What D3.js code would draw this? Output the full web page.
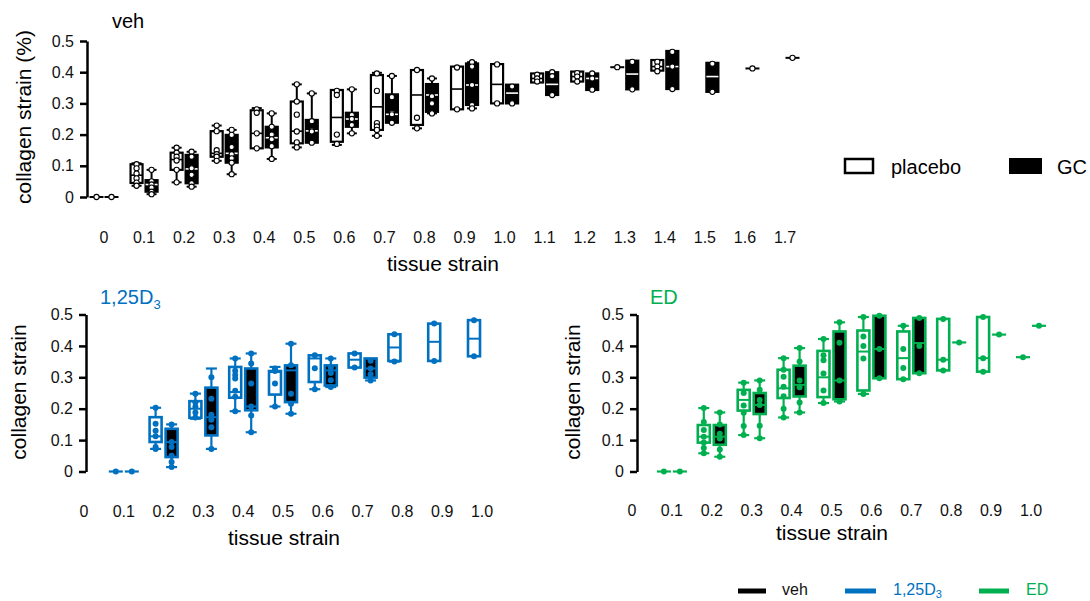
<!DOCTYPE html>
<html><head><meta charset="utf-8">
<script src="https://cdn.jsdelivr.net/npm/d3@7"></script>
<style>
body{margin:0;background:#fff;}
svg text{font-family:Arial,"Liberation Sans",sans-serif;}
</style>
</head><body>
<svg id="chart" width="1090" height="601"></svg>
<script>
// ---------- categories & ticks ----------
const topCats = ["0","0.1","0.2","0.3","0.4","0.5","0.6","0.7","0.8","0.9","1.0","1.1","1.2","1.3","1.4","1.5","1.6","1.7"];
const botCats = ["0","0.1","0.2","0.3","0.4","0.5","0.6","0.7","0.8","0.9","1.0"];
const yTicks = [0, 0.1, 0.2, 0.3, 0.4, 0.5];
const yTickLabels = ["0", "0.1", "0.2", "0.3", "0.4", "0.5"];

// ---------- veh (top) : [min, q1, median, q3, max] ----------
const vehPlaceboStats = [
  [0,0,0,0,0],[0.036,0.045,0.07,0.105,0.108],[0.047,0.087,0.12,0.142,0.158],[0.116,0.129,0.14,0.211,0.229],
  [0.156,0.156,0.204,0.278,0.285],[0.159,0.172,0.211,0.306,0.361],[0.167,0.177,0.255,0.343,0.343],
  [0.196,0.215,0.289,0.391,0.398],[0.22,0.231,0.327,0.407,0.407],[0.281,0.281,0.346,0.418,0.418],
  [0.3,0.3,0.361,0.426,0.426],[0.367,0.367,0.38,0.396,0.396],[0.37,0.37,0.386,0.402,0.402],
  [0.416,0.416,0.416,0.416,0.416],[0.405,0.405,0.418,0.439,0.439],null,null,null];
const vehPlaceboPts = [
  [0],[0.105,0.092,0.075,0.06,0.046,0.036],[0.158,0.142,0.129,0.117,0.087,0.047],[0.229,0.211,0.15,0.137,0.129,0.116],
  [0.281,0.27,0.204,0.156],[0.361,0.306,0.264,0.21,0.175,0.159],[0.34,0.327,0.2,0.17],
  [0.396,0.34,0.237,0.226,0.215,0.196],[0.407,0.254,0.22],[0.415,0.281],
  [0.425,0.3],[0.392,0.38,0.37],[0.397,0.386,0.37],[0.416],[0.433,0.418,0.403],[],[],[]];
const vehGCStats = [
  [0,0,0,0,0],[0.009,0.017,0.04,0.054,0.087],[0.033,0.044,0.09,0.135,0.145],[0.073,0.11,0.14,0.199,0.215],
  [0.122,0.159,0.19,0.225,0.268],[0.174,0.174,0.212,0.247,0.332],[0.204,0.225,0.25,0.27,0.345],
  [0.238,0.238,0.265,0.329,0.388],[0.268,0.273,0.327,0.362,0.38],[0.284,0.295,0.359,0.428,0.432],
  [0.3,0.3,0.333,0.36,0.36],[0.327,0.327,0.361,0.4,0.4],[0.343,0.343,0.38,0.396,0.396],
  [0.345,0.345,0.394,0.437,0.437],[0.346,0.346,0.418,0.468,0.468],[0.337,0.337,0.386,0.43,0.43],
  [0.412,0.412,0.412,0.412,0.412],[0.446,0.446,0.446,0.446,0.446]];
const vehGCPts = [
  [0],[0.087,0.05,0.04,0.03,0.017,0.009],[0.145,0.129,0.092,0.071,0.044,0.033],[0.215,0.199,0.16,0.137,0.124,0.11,0.073],
  [0.268,0.225,0.2,0.185,0.163,0.122],[0.332,0.243,0.214,0.21,0.174],[0.345,0.263,0.25,0.231,0.204],
  [0.388,0.32,0.27,0.265,0.238],[0.38,0.323,0.3,0.268],[0.432,0.418,0.359,0.295,0.284],
  [0.354,0.3],[0.4,0.387,0.327],[0.396,0.38,0.344],[0.433,0.345],[0.465,0.418,0.346],[0.427,0.337],[0.412],[0.446]];

// ---------- 1,25D3 (bottom left) ----------
const d3PlaceboStats = [
  null,[0,0,0,0,0],[0.072,0.094,0.112,0.173,0.203],[0.168,0.171,0.2,0.224,0.248],[0.192,0.235,0.253,0.333,0.36],
  [0.207,0.245,0.317,0.32,0.333],[0.262,0.285,0.36,0.37,0.37],[0.331,0.331,0.356,0.376,0.376],
  [0.35,0.352,0.395,0.437,0.437],[0.352,0.352,0.413,0.471,0.471],[0.367,0.367,0.423,0.482,0.482]];
const d3PlaceboPts = [
  [],[0],[0.203,0.152,0.13,0.112,0.078,0.072],[0.248,0.22,0.206,0.188,0.172],[0.36,0.321,0.307,0.296,0.257,0.238,0.192],
  [0.328,0.32,0.28,0.207],[0.37,0.329,0.262],[0.376,0.331],[0.437,0.35],[0.471,0.352],[0.482,0.367]];
const d3GCStats = [
  null,[0,0,0,0,0],[0.014,0.046,0.094,0.136,0.15],[0.072,0.115,0.173,0.267,0.328],[0.125,0.195,0.207,0.328,0.376],
  [0.184,0.221,0.322,0.338,0.407],[0.269,0.274,0.322,0.338,0.36],[0.29,0.299,0.328,0.36,0.36],null,null,null];
const d3GCPts = [
  [],[0],[0.15,0.094,0.078,0.05,0.03,0.014],[0.3,0.232,0.181,0.165,0.141,0.072],[0.376,0.344,0.28,0.207,0.178,0.125],
  [0.407,0.338,0.248,0.216,0.184],[0.36,0.331,0.314,0.291,0.269],[0.353,0.328,0.31,0.29],[],[],[]];

// ---------- ED (bottom right) ----------
const edPlaceboStats = [
  null,[0,0,0,0,0],[0.058,0.092,0.111,0.148,0.202],[0.116,0.194,0.228,0.26,0.283],[0.172,0.234,0.265,0.324,0.361],
  [0.218,0.237,0.3,0.384,0.422],[0.247,0.258,0.382,0.449,0.492],[0.294,0.294,0.361,0.446,0.464],
  [0.322,0.322,0.356,0.486,0.486],[0.318,0.318,0.361,0.492,0.492],[0.364,0.364,0.364,0.364,0.364]];
const edPlaceboPts = [
  [],[0],[0.202,0.158,0.132,0.111,0.092,0.075,0.058],[0.283,0.25,0.21,0.187,0.145,0.116],[0.361,0.324,0.302,0.27,0.24,0.2,0.172],
  [0.422,0.37,0.354,0.312,0.258,0.218],[0.492,0.43,0.4,0.36,0.247],[0.464,0.39,0.33,0.294],
  [0.486,0.356,0.322],[0.492,0.361,0.318],[0.364]];
const edGCStats = [
  null,[0,0,0,0,0],[0.047,0.085,0.111,0.148,0.188],[0.106,0.183,0.212,0.25,0.29],[0.188,0.239,0.276,0.337,0.393],
  [0.223,0.23,0.29,0.446,0.475],[0.297,0.297,0.39,0.496,0.496],[0.313,0.313,0.409,0.489,0.489],
  [0.411,0.411,0.411,0.411,0.411],[0.436,0.436,0.436,0.436,0.436],[0.464,0.464,0.464,0.464,0.464]];
const edGCPts = [
  [],[0],[0.188,0.15,0.12,0.105,0.07,0.047],[0.29,0.26,0.228,0.212,0.146,0.106],[0.393,0.35,0.29,0.268,0.22,0.188],
  [0.475,0.41,0.29,0.223],[0.496,0.39,0.297],[0.489,0.4,0.313],[0.411],[0.436],[0.464]];

// ---------- colours ----------
const BLUE = "#0070C0", GREEN = "#00B050", BLACK = "#000";

const svg = d3.select("#chart");

function drawBoxes(g, x, y, cats, stats, pts, off, st) {
  stats.forEach((s, i) => {
    if (!s) return;
    const cx = x(cats[i]) + off;
    const [mn, q1, md, q3, mx] = s;
    const grp = g.append("g");
    const hw = st.bw / 2;
    if (mx - mn < 1e-6) {
      grp.append("line").attr("x1", cx - st.single).attr("x2", cx + st.single)
        .attr("y1", y(md)).attr("y2", y(md)).attr("stroke", st.stroke).attr("stroke-width", st.sw);
    } else {
      if (mx > q3 + 1e-6) {
        grp.append("line").attr("x1", cx).attr("x2", cx).attr("y1", y(q3)).attr("y2", y(mx))
          .attr("stroke", st.stroke).attr("stroke-width", st.sw);
        grp.append("line").attr("x1", cx - st.cap).attr("x2", cx + st.cap).attr("y1", y(mx)).attr("y2", y(mx))
          .attr("stroke", st.stroke).attr("stroke-width", st.sw);
      }
      if (mn < q1 - 1e-6) {
        grp.append("line").attr("x1", cx).attr("x2", cx).attr("y1", y(q1)).attr("y2", y(mn))
          .attr("stroke", st.stroke).attr("stroke-width", st.sw);
        grp.append("line").attr("x1", cx - st.cap).attr("x2", cx + st.cap).attr("y1", y(mn)).attr("y2", y(mn))
          .attr("stroke", st.stroke).attr("stroke-width", st.sw);
      }
      grp.append("rect").attr("x", cx - hw).attr("y", y(q3)).attr("width", st.bw)
        .attr("height", Math.max(0.5, y(q1) - y(q3)))
        .attr("fill", st.fill).attr("stroke", st.stroke).attr("stroke-width", st.bsw);
      grp.append("line").attr("x1", cx - hw).attr("x2", cx + hw).attr("y1", y(md)).attr("y2", y(md))
        .attr("stroke", st.median).attr("stroke-width", st.msw);
    }
    grp.selectAll("circle").data(pts[i] || []).join("circle")
      .attr("cx", cx).attr("cy", d => y(d)).attr("r", st.r)
      .attr("fill", st.ptFill).attr("stroke", st.ptStroke).attr("stroke-width", st.ptSw);
  });
}

function drawAxes(g, x, y, cats, axisX, labelY) {
  const ax = g.append("g").attr("transform", `translate(${axisX},0)`)
    .call(d3.axisLeft(y).tickValues(yTicks).tickFormat((d, i) => yTickLabels[i]).tickSize(7).tickSizeOuter(0).tickPadding(6));
  ax.select(".domain").attr("stroke", BLACK).attr("stroke-width", 2.5);
  ax.selectAll(".tick line").attr("stroke", BLACK).attr("stroke-width", 2.5);
  ax.selectAll(".tick text").attr("font-size", 16).attr("fill", "#111")
    .attr("font-family", "Arial, 'Liberation Sans', sans-serif");
  g.append("g").selectAll("text").data(cats).join("text")
    .attr("x", d => x(d)).attr("y", labelY).attr("text-anchor", "middle")
    .attr("font-size", 16).attr("fill", "#111").text(d => d);
}

// ================= TOP PANEL (veh) =================
const gTop = svg.append("g");
const xTop = d3.scalePoint().domain(topCats).range([104, 785]);
const yTop = d3.scaleLinear().domain([0, 0.5]).range([197, 41]);
drawAxes(gTop, xTop, yTop, topCats, 87, 243);
const topBase = {bw: 12, cap: 5, single: 7, sw: 2, bsw: 2.2, msw: 1.6, r: 2.6, ptSw: 1.1, stroke: BLACK, ptStroke: BLACK, ptFill: "#fff"};
drawBoxes(gTop, xTop, yTop, topCats, vehPlaceboStats, vehPlaceboPts, -7.5, {...topBase, fill: "#fff", median: BLACK});
drawBoxes(gTop, xTop, yTop, topCats, vehGCStats, vehGCPts, 7.5, {...topBase, fill: BLACK, median: "#fff"});
gTop.append("text").attr("x", 112).attr("y", 28).attr("font-size", 20).text("veh");
gTop.append("text").attr("transform", "translate(31,117) rotate(-90)").attr("text-anchor", "middle")
  .attr("font-size", 21).text("collagen strain (%)");
gTop.append("text").attr("x", 443).attr("y", 271).attr("text-anchor", "middle").attr("font-size", 21).text("tissue strain");

// legend placebo / GC
const lg = svg.append("g");
lg.append("rect").attr("x", 845).attr("y", 159).attr("width", 28).attr("height", 14)
  .attr("fill", "#fff").attr("stroke", BLACK).attr("stroke-width", 2.5);
lg.append("text").attr("x", 891).attr("y", 174).attr("font-size", 20).text("placebo");
lg.append("rect").attr("x", 1009).attr("y", 158).attr("width", 33).attr("height", 16).attr("fill", BLACK);
lg.append("text").attr("x", 1057).attr("y", 174).attr("font-size", 20).text("GC");

// ================= BOTTOM LEFT (1,25D3) =================
const gBL = svg.append("g");
const xBL = d3.scalePoint().domain(botCats).range([84, 482]);
const yBot = d3.scaleLinear().domain([0, 0.5]).range([471.5, 314.5]);
drawAxes(gBL, xBL, yBot, botCats, 86, 517);
const colBase = {bw: 12, cap: 5.5, single: 7, sw: 2.2, bsw: 2.6, msw: 2, r: 3, ptSw: 0};
drawBoxes(gBL, xBL, yBot, botCats, d3PlaceboStats, d3PlaceboPts, -8,
  {...colBase, stroke: BLUE, fill: "#fff", median: BLUE, ptFill: BLUE, ptStroke: "none"});
drawBoxes(gBL, xBL, yBot, botCats, d3GCStats, d3GCPts, 8,
  {...colBase, stroke: BLUE, fill: BLACK, median: BLUE, ptFill: BLUE, ptStroke: "none"});
const tBL = gBL.append("text").attr("x", 100).attr("y", 304).attr("font-size", 20).attr("fill", BLUE);
tBL.append("tspan").text("1,25D");
tBL.append("tspan").attr("font-size", 13).attr("dy", 5).text("3");
gBL.append("text").attr("transform", "translate(26,392) rotate(-90)").attr("text-anchor", "middle")
  .attr("font-size", 21).text("collagen strain");
gBL.append("text").attr("x", 284).attr("y", 545).attr("text-anchor", "middle").attr("font-size", 21).text("tissue strain");

// ================= BOTTOM RIGHT (ED) =================
const gBR = svg.append("g");
const xBR = d3.scalePoint().domain(botCats).range([632, 1031]);
drawAxes(gBR, xBR, yBot, botCats, 637, 516);
drawBoxes(gBR, xBR, yBot, botCats, edPlaceboStats, edPlaceboPts, -8,
  {...colBase, stroke: GREEN, fill: "#fff", median: GREEN, ptFill: GREEN, ptStroke: "none"});
drawBoxes(gBR, xBR, yBot, botCats, edGCStats, edGCPts, 8,
  {...colBase, stroke: GREEN, fill: BLACK, median: GREEN, ptFill: GREEN, ptStroke: "none"});
gBR.append("text").attr("x", 650).attr("y", 304).attr("font-size", 20).attr("fill", GREEN).text("ED");
gBR.append("text").attr("transform", "translate(580,392) rotate(-90)").attr("text-anchor", "middle")
  .attr("font-size", 21).text("collagen strain");
gBR.append("text").attr("x", 832).attr("y", 540).attr("text-anchor", "middle").attr("font-size", 21).text("tissue strain");

// ================= bottom legend =================
const bl = svg.append("g");
const legendItems = [
  {label: "veh", color: BLACK, x1: 738, x2: 766, tx: 782},
  {label: "1,25D", sub: "3", color: BLUE, x1: 845, x2: 876, tx: 893},
  {label: "ED", color: GREEN, x1: 979, x2: 1009, tx: 1026}
];
legendItems.forEach(it => {
  bl.append("line").attr("x1", it.x1).attr("x2", it.x2).attr("y1", 591).attr("y2", 591)
    .attr("stroke", it.color).attr("stroke-width", 5);
  const t = bl.append("text").attr("x", it.tx).attr("y", 595).attr("font-size", 16)
    .attr("fill", it.color === BLACK ? "#111" : it.color);
  t.append("tspan").text(it.label);
  if (it.sub) t.append("tspan").attr("font-size", 11).attr("dy", 3).text(it.sub);
});
</script>
</body></html>
